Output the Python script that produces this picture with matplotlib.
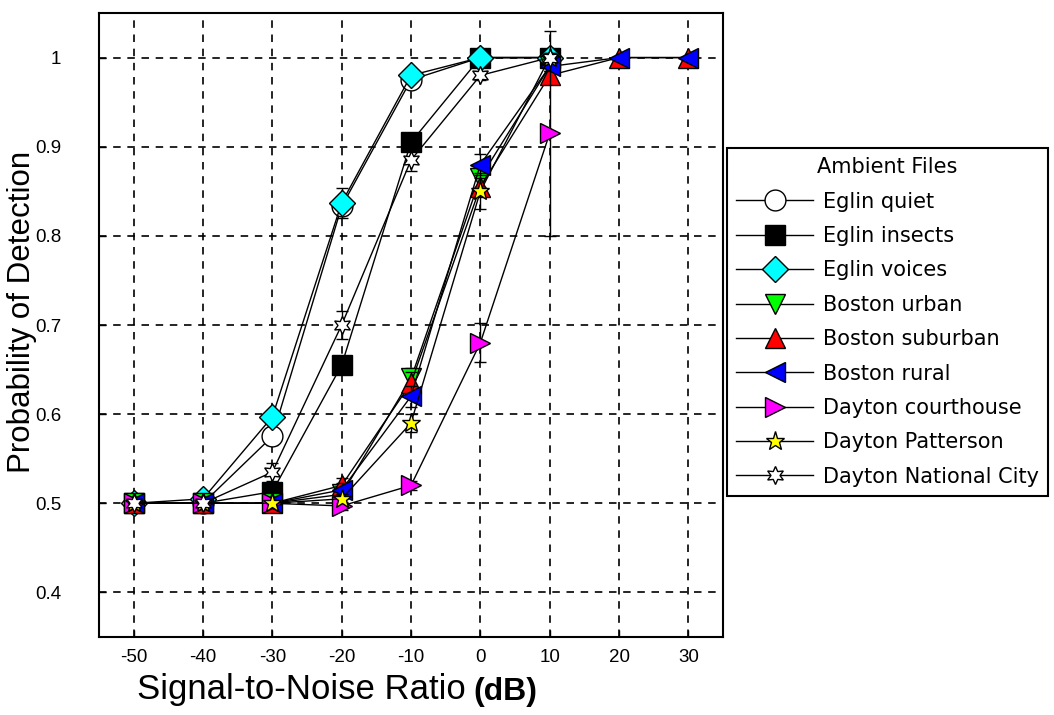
import matplotlib.pyplot as plt
from matplotlib.ticker import FormatStrFormatter

plt.rcParams['axes.unicode_minus'] = False

snr = [-50, -40, -30, -20, -10, 0, 10]
snr_long = [-50, -40, -30, -20, -10, 0, 10, 20, 30]

names = ['Eglin quiet', 'Eglin insects', 'Eglin voices', 'Boston urban',
         'Boston suburban', 'Boston rural', 'Dayton courthouse',
         'Dayton Patterson', 'Dayton National City']

eglin_quiet = [0.5, 0.5, 0.575, 0.833, 0.975, 1.0, 1.0]
eglin_insects = [0.5, 0.5, 0.513, 0.655, 0.905, 1.0, 1.0]
eglin_voices = [0.5, 0.505, 0.597, 0.837, 0.98, 1.0, 1.0]
boston_urban = [0.5, 0.5, 0.5, 0.51, 0.64, 0.865, 0.99]
boston_suburban = [0.5, 0.5, 0.5, 0.52, 0.635, 0.855, 0.98, 1.0, 1.0]
boston_rural = [0.5, 0.5, 0.5, 0.515, 0.62, 0.88, 0.99, 1.0, 1.0]
dayton_courthouse = [0.5, 0.5, 0.5, 0.497, 0.52, 0.68, 0.915]
dayton_patterson = [0.5, 0.5, 0.5, 0.505, 0.59, 0.85, 1.0]
dayton_national = [0.5, 0.5, 0.535, 0.70, 0.885, 0.98, 1.0]

err_quiet = [0, 0, 0.01, 0.01, 0.005, 0.005, 0]
err_insects = [0, 0, 0.005, 0.01, 0.008, 0, 0]
err_voices = [0, 0, 0.005, 0.017, 0.005, 0, 0]
err_urban = [0, 0, 0, 0.005, 0.012, 0.01, 0.005]
err_suburban = [0, 0, 0, 0.008, 0.012, 0.01, 0.005, 0, 0]
err_rural = [0, 0, 0, 0.008, 0.012, 0.012, 0.005, 0, 0]
err_courthouse = [0, 0, 0, 0.005, 0.005, 0.022, 0.115]
err_patterson = [0, 0, 0, 0.005, 0.01, 0.02, 0.005]
err_national = [0, 0, 0.01, 0.016, 0.012, 0.005, 0.005]

series = [
    (snr, eglin_quiet, err_quiet, 'o', 'white', 15),
    (snr, eglin_insects, err_insects, 's', 'black', 14),
    (snr, eglin_voices, err_voices, 'D', 'cyan', 13),
    (snr, boston_urban, err_urban, 'v', '#00ff00', 15),
    (snr_long, boston_suburban, err_suburban, '^', 'red', 15),
    (snr_long, boston_rural, err_rural, '<', 'blue', 15),
    (snr, dayton_courthouse, err_courthouse, '>', 'magenta', 15),
    (snr, dayton_patterson, err_patterson, '*', 'yellow', 14),
    (snr, dayton_national, err_national, (6, 1, 0), 'white', 13),
]

fig = plt.figure(figsize=(10.54, 7.15), dpi=100)
ax = fig.add_axes([99 / 1054, 1 - 637 / 715, 624 / 1054, 624 / 715])

for (x, y, e, m, c, ms), name in zip(series, names):
    # error bars first, then the line with its marker on top
    ax.errorbar(x, y, yerr=e, fmt='none', ecolor='black',
                elinewidth=1, capsize=4)
    ax.plot(x, y, '-', marker=m, color='black', lw=1, mfc=c, mec='black',
            mew=1, ms=ms, label=name)

ax.set_xlim(-55, 35)
ax.set_ylim(0.35, 1.05)
ax.set_xticks(snr_long)
ax.set_yticks([0.4, 0.5, 0.6, 0.7, 0.8, 0.9, 1.0])
ax.yaxis.set_major_formatter(FormatStrFormatter('%g'))
ax.grid(True, color='black', linestyle=(0, (4.5, 4)), linewidth=1.2)
ax.tick_params(direction='in', length=5, width=1, labelsize=13.5)
ax.tick_params(axis='y', pad=27)
ax.tick_params(axis='x', pad=9)
for lab in ax.get_xticklabels() + ax.get_yticklabels():
    lab.set_family('Liberation Sans')
for sp in ax.spines.values():
    sp.set_linewidth(1.5)

fig.text(22 / 1054, 1 - 312 / 715, 'Probability of Detection', rotation=90,
         ha='center', va='center', fontsize=22.5, family='Liberation Sans')
fig.text(137 / 1054, 1 - 690 / 715, 'Signal-to-Noise Ratio', ha='left',
         va='center', fontsize=25, family='Liberation Sans')
fig.text(473 / 1054, 1 - 692 / 715, '(dB)', ha='left', va='center',
         fontsize=23, fontweight='bold', family='Liberation Sans')

leg = ax.legend(loc='upper left', bbox_to_anchor=(727 / 1054, 1 - 148 / 715),
                bbox_transform=fig.transFigure, borderaxespad=0,
                title='Ambient Files', fancybox=False, framealpha=1,
                edgecolor='black', handlelength=3.7, handletextpad=0.45,
                labelspacing=0.69, borderpad=0.45,
                prop={'family': 'DejaVu Sans', 'size': 15},
                title_fontproperties={'family': 'DejaVu Sans', 'size': 15})
leg.get_frame().set_linewidth(1.5)

fig.savefig('out.png', dpi=100)
